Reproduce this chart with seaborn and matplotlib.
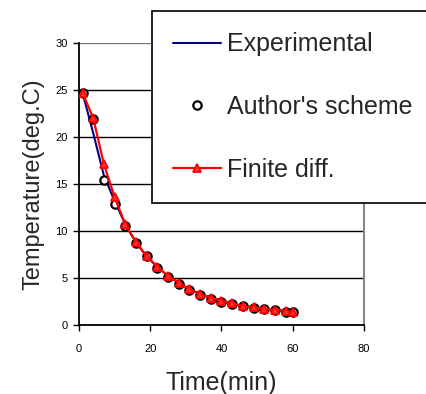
import matplotlib
matplotlib.use("Agg")
import matplotlib.pyplot as plt
import seaborn as sns
import pandas as pd

# ---- data ----
time_fd = [1, 4, 7, 10, 13, 16, 19, 22, 25, 28, 31, 34, 37, 40, 43, 46, 49, 52, 55, 58, 60]
finite_diff = [24.7, 22.0, 17.1, 13.6, 10.7, 8.8, 7.3, 6.2, 5.2, 4.5, 3.8, 3.3, 2.9, 2.6,
               2.3, 2.0, 1.9, 1.7, 1.6, 1.5, 1.4]
time_auth = [1, 4, 7, 10, 13, 16, 19, 22, 25, 28, 31, 34, 37, 40, 43, 46, 49, 52, 55, 58, 60]
author_scheme = [24.7, 21.9, 15.4, 12.9, 10.5, 8.7, 7.3, 6.1, 5.1, 4.4, 3.7, 3.2, 2.8, 2.5,
                 2.2, 2.0, 1.8, 1.7, 1.6, 1.4, 1.4]
time_exp = [1, 4, 7, 10, 13, 16, 19, 22, 25, 28, 31, 34, 37, 40, 43, 46, 49, 52, 55, 58, 60]
experimental = [24.7, 20.4, 15.9, 13.2, 10.7, 8.8, 7.3, 6.2, 5.2, 4.5, 3.8, 3.3, 2.9, 2.6,
                2.3, 2.0, 1.9, 1.7, 1.6, 1.5, 1.4]
x_ticks = [0, 20, 40, 60, 80]
y_ticks = [0, 5, 10, 15, 20, 25, 30]

sns.set_style("white")
plt.rcParams['font.family'] = ['Liberation Sans', 'DejaVu Sans']

fig = plt.figure(figsize=(4.26, 3.94), dpi=100)
ax = fig.add_axes([0.1854, 0.1751, 0.6691, 0.7158])

df_exp = pd.DataFrame({"t": time_exp, "T": experimental})
df_auth = pd.DataFrame({"t": time_auth, "T": author_scheme})
df_fd = pd.DataFrame({"t": time_fd, "T": finite_diff})

sns.lineplot(data=df_exp, x="t", y="T", ax=ax, color="#000080", lw=1.5,
             label="Experimental", zorder=3)
sns.lineplot(data=df_auth, x="t", y="T", ax=ax, color="black", lw=0, marker="o",
             markersize=6, markerfacecolor="white", markeredgecolor="black",
             markeredgewidth=1.6, label="Author's scheme", zorder=4)
sns.lineplot(data=df_fd, x="t", y="T", ax=ax, color="#ff0000", lw=1.6, marker="^",
             markersize=6, markerfacecolor="#ff3030", markeredgecolor="#ff0000",
             markeredgewidth=1.3, label="Finite diff.", zorder=5)

ax.set_xlim(0, 80)
ax.set_ylim(0, 30)
ax.set_xticks(x_ticks)
ax.set_yticks(y_ticks)
ax.tick_params(axis='both', labelsize=8, length=4, width=1, direction='out',
               left=True, bottom=True, colors='black')
ax.tick_params(axis='x', pad=10)
ax.tick_params(axis='y', pad=4)
ax.yaxis.grid(True, color='black', lw=1)
ax.xaxis.grid(False)
ax.set_axisbelow(True)
gl = ax.get_ygridlines()
gl[-1].set_color('#777777')
for s in ['left', 'bottom']:
    ax.spines[s].set_color('black')
    ax.spines[s].set_linewidth(1.3)
ax.spines['right'].set_color('#888888')
ax.spines['right'].set_linewidth(1.5)
ax.spines['top'].set_visible(False)

ax.set_xlabel("Time(min)", fontsize=18, labelpad=12)
ax.set_ylabel("Temperature(deg.C)", fontsize=17, labelpad=8)

handles, labels = ax.get_legend_handles_labels()
ax.legend_.remove()
leg = fig.legend(handles, labels, loc='upper left',
                 bbox_to_anchor=(152 / 426, 1 - 11 / 394, 300 / 426, 0),
                 mode='expand',
                 fontsize=18, frameon=True, fancybox=False, framealpha=1,
                 edgecolor='black', handlelength=1.9, handletextpad=0.25,
                 labelspacing=1.55, borderpad=0.85, borderaxespad=0)
leg.get_frame().set_linewidth(1.2)

fig.savefig("out.png", dpi=100)
